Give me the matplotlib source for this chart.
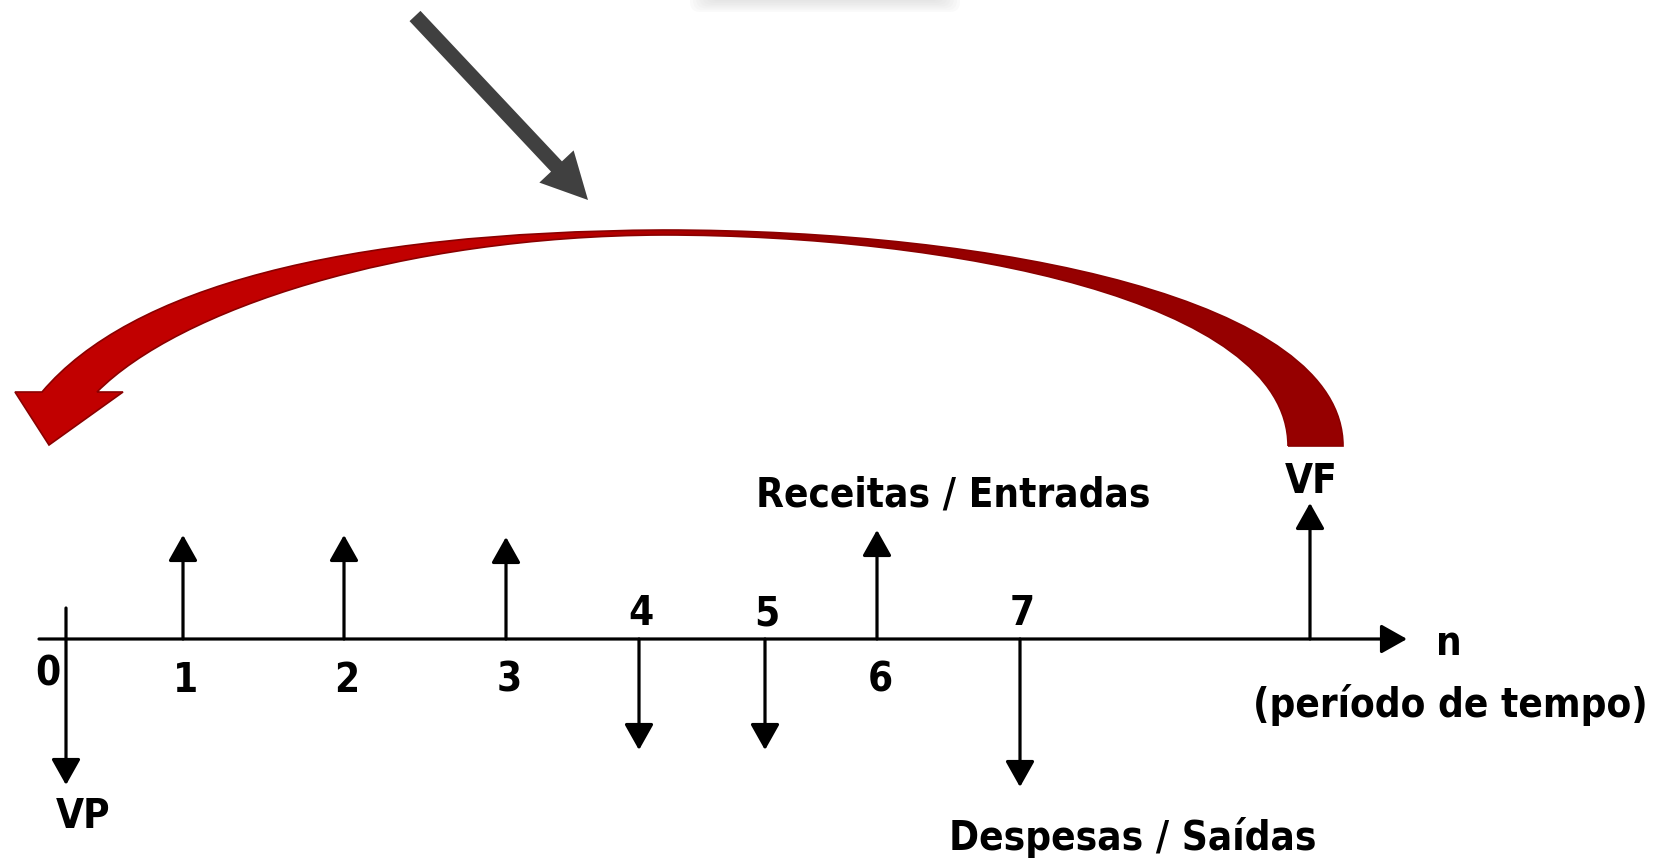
import numpy as np
import matplotlib
matplotlib.use('Agg')
import matplotlib.pyplot as plt
from matplotlib.path import Path
from matplotlib.patches import PathPatch, FancyArrow, FancyBboxPatch

# diagrama de fluxo de caixa (coordenadas em pixels da figura)
periodos = ['0', '1', '2', '3', '4', '5', '6', '7', '']
pos_x = [66, 183, 344, 506, 639, 765, 877, 1020, 1310]
fluxos = [-146, 104, 104, 102, -111, -111, 109, -148, 136]
eixo_y = 639

plt.rcParams['font.family'] = ['DejaVu Sans']
fonte = dict(fontsize=29, fontweight='bold', fontstretch='condensed', color='black')

fig = plt.figure(figsize=(16.6, 8.58), dpi=100)
ax = fig.add_axes([0, 0, 1, 1])

seta = dict(arrowstyle='-|>,head_length=0.8,head_width=0.45', lw=2.3, color='black',
            shrinkA=0, shrinkB=0, mutation_scale=20)

# eixo do tempo
ax.annotate('', xy=(1407, eixo_y), xytext=(39, eixo_y), arrowprops=seta)

# setas de entradas / saidas
for p, x, f in zip(periodos, pos_x, fluxos):
    inicio = eixo_y - 31 if p == '0' else eixo_y
    ax.annotate('', xy=(x, eixo_y - f), xytext=(x, inicio), arrowprops=seta)
    if p == '0':
        ax.text(x - 18, eixo_y + 46, p, ha='center', va='baseline', **fonte)
    elif p == '':
        continue
    elif f > 0:
        ax.text(x + 3, eixo_y + 53, p, ha='center', va='baseline', **fonte)
    else:
        ax.text(x + 2, eixo_y - 14, p, ha='center', va='baseline', **fonte)

ax.text(83, 828, 'VP', ha='center', va='baseline', **fonte)
ax.text(1311, 493, 'VF', ha='center', va='baseline', **fonte)
ax.text(1449, 655, 'n', ha='center', va='baseline', **fonte)
ax.text(1450, 717, '(período de tempo)', ha='center', va='baseline', **fonte)
ax.text(953, 507, 'Receitas / Entradas', ha='center', va='baseline', **fonte)
ax.text(1133, 850, 'Despesas / Saídas', ha='center', va='baseline', **fonte)

# seta curva vermelha (de VF para VP)
M, C, L = Path.MOVETO, Path.CURVE4, Path.LINETO
verts = [(1288, 446),
         (1288, 300), (950, 235), (663, 235),
         (400, 236), (178, 310), (97, 392),
         (123, 392), (49, 445), (15, 392), (42, 392),
         (130, 288), (340, 232), (663, 230),
         (1000, 230), (1343, 300), (1343, 446),
         (1288, 446)]
codes = [M, C, C, C, C, C, C, L, L, L, L, C, C, C, C, C, C, L]
curva = PathPatch(Path(verts, codes), facecolor='none', edgecolor='#8a0000', lw=1.2, zorder=3)
ax.add_patch(curva)

xs = np.linspace(0, 1, 400)
t = np.clip((xs * 1400 - 520) / 260, 0, 1)
esq = np.array([0.76, 0.0, 0.0])
dir_ = np.array([0.59, 0.0, 0.0])
cores = (1 - t)[:, None] * esq + t[:, None] * dir_
im = ax.imshow(cores[None, :, :], extent=(0, 1400, 460, 200), aspect='auto', zorder=2)
im.set_clip_path(curva)

# seta cinza apontando para a curva
ax.add_patch(FancyArrow(415, 16, 588 - 415, 200 - 16, width=15, head_width=47, head_length=46,
                        length_includes_head=True, color='#404040', lw=0, zorder=3))

# sombra clara no topo
for dx in range(0, 30, 3):
    ax.add_patch(FancyBboxPatch((690 + dx, -20), 270 - 2 * dx, 32 - dx * 0.6,
                                boxstyle='round,pad=0,rounding_size=10',
                                facecolor='#d0d0d0', edgecolor='none', alpha=0.09, zorder=1))

ax.set_xlim(0, 1660)
ax.set_ylim(858, 0)
ax.axis('off')
fig.savefig('out.png', dpi=100, facecolor='white')
